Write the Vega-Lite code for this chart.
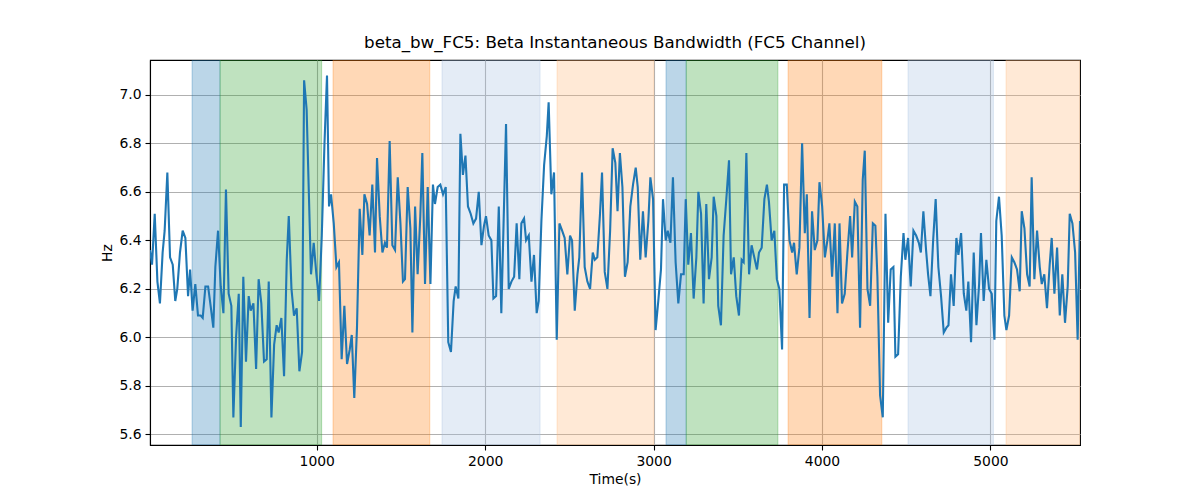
{
  "$schema": "https://vega.github.io/schema/vega-lite/v6.json",
  "width": 930,
  "height": 385,
  "autosize": {"type": "none"},
  "padding": {"left": 150, "top": 60, "right": 120, "bottom": 55},
  "background": "white",
  "title": {
    "text": "beta_bw_FC5: Beta Instantaneous Bandwidth (FC5 Channel)",
    "font": "DejaVu Sans",
    "fontSize": 16.7,
    "fontWeight": "normal",
    "color": "black",
    "anchor": "middle",
    "offset": 8
  },
  "config": {
    "view": {"stroke": "black", "strokeWidth": 1.1},
    "axis": {
      "labelFont": "DejaVu Sans",
      "labelFontSize": 13.9,
      "labelColor": "black",
      "titleFont": "DejaVu Sans",
      "titleFontSize": 13.9,
      "titleFontWeight": "normal",
      "titleColor": "black",
      "domainColor": "black",
      "domainWidth": 1.1,
      "tickColor": "black",
      "tickWidth": 1.1,
      "tickSize": 5,
      "labelPadding": 4,
      "grid": true,
      "gridColor": "#b0b0b0",
      "gridWidth": 1.1
    }
  },
  "datasets": {
    "spans": [
      {"start": 260, "end": 426, "kind": "k1"},
      {"start": 426, "end": 1029, "kind": "k2"},
      {"start": 1097, "end": 1671, "kind": "k3"},
      {"start": 1744, "end": 2326, "kind": "k4"},
      {"start": 2427, "end": 3001, "kind": "k5"},
      {"start": 3074, "end": 3194, "kind": "k1"},
      {"start": 3194, "end": 3738, "kind": "k2"},
      {"start": 3799, "end": 4355, "kind": "k3"},
      {"start": 4511, "end": 5018, "kind": "k4"},
      {"start": 5093, "end": 5532, "kind": "k5"}
    ],
    "series": [
      {"t": 10, "v": 6.36}, {"t": 22, "v": 6.30}, {"t": 38, "v": 6.51}, {"t": 54, "v": 6.23}, {"t": 69, "v": 6.14},
      {"t": 85, "v": 6.35}, {"t": 97, "v": 6.44}, {"t": 113, "v": 6.68}, {"t": 129, "v": 6.33}, {"t": 145, "v": 6.30},
      {"t": 160, "v": 6.15}, {"t": 172, "v": 6.20}, {"t": 188, "v": 6.35}, {"t": 204, "v": 6.44}, {"t": 220, "v": 6.41},
      {"t": 236, "v": 6.17}, {"t": 248, "v": 6.28}, {"t": 263, "v": 6.11}, {"t": 279, "v": 6.22}, {"t": 295, "v": 6.09},
      {"t": 311, "v": 6.09}, {"t": 323, "v": 6.08}, {"t": 339, "v": 6.21}, {"t": 355, "v": 6.21}, {"t": 370, "v": 6.13},
      {"t": 386, "v": 6.04}, {"t": 398, "v": 6.29}, {"t": 414, "v": 6.44}, {"t": 430, "v": 6.21}, {"t": 446, "v": 6.10},
      {"t": 461, "v": 6.61}, {"t": 477, "v": 6.18}, {"t": 493, "v": 6.13}, {"t": 505, "v": 5.67}, {"t": 521, "v": 6.00},
      {"t": 537, "v": 6.18}, {"t": 549, "v": 5.63}, {"t": 564, "v": 6.25}, {"t": 580, "v": 5.90}, {"t": 596, "v": 6.17},
      {"t": 608, "v": 6.11}, {"t": 624, "v": 6.14}, {"t": 640, "v": 5.87}, {"t": 655, "v": 6.24}, {"t": 671, "v": 6.14},
      {"t": 687, "v": 5.90}, {"t": 703, "v": 5.91}, {"t": 715, "v": 6.23}, {"t": 731, "v": 5.67}, {"t": 747, "v": 5.97},
      {"t": 762, "v": 6.05}, {"t": 774, "v": 6.02}, {"t": 790, "v": 6.08}, {"t": 806, "v": 5.84}, {"t": 822, "v": 6.32},
      {"t": 834, "v": 6.50}, {"t": 850, "v": 6.20}, {"t": 865, "v": 6.09}, {"t": 881, "v": 6.12}, {"t": 897, "v": 5.86},
      {"t": 913, "v": 5.94}, {"t": 925, "v": 7.06}, {"t": 940, "v": 6.94}, {"t": 966, "v": 6.26}, {"t": 982, "v": 6.39},
      {"t": 998, "v": 6.26}, {"t": 1014, "v": 6.15}, {"t": 1030, "v": 6.42}, {"t": 1046, "v": 6.80}, {"t": 1061, "v": 7.08},
      {"t": 1073, "v": 6.54}, {"t": 1085, "v": 6.59}, {"t": 1101, "v": 6.47}, {"t": 1117, "v": 6.29}, {"t": 1132, "v": 6.31},
      {"t": 1148, "v": 5.91}, {"t": 1164, "v": 6.13}, {"t": 1180, "v": 5.89}, {"t": 1196, "v": 5.95}, {"t": 1208, "v": 6.01},
      {"t": 1223, "v": 5.75}, {"t": 1239, "v": 6.04}, {"t": 1255, "v": 6.53}, {"t": 1271, "v": 6.34}, {"t": 1283, "v": 6.59},
      {"t": 1299, "v": 6.55}, {"t": 1314, "v": 6.42}, {"t": 1330, "v": 6.63}, {"t": 1346, "v": 6.35}, {"t": 1358, "v": 6.74},
      {"t": 1374, "v": 6.50}, {"t": 1390, "v": 6.35}, {"t": 1405, "v": 6.39}, {"t": 1417, "v": 6.37}, {"t": 1433, "v": 6.81},
      {"t": 1449, "v": 6.38}, {"t": 1465, "v": 6.36}, {"t": 1481, "v": 6.66}, {"t": 1497, "v": 6.47}, {"t": 1512, "v": 6.23},
      {"t": 1524, "v": 6.24}, {"t": 1540, "v": 6.62}, {"t": 1556, "v": 6.45}, {"t": 1568, "v": 6.02}, {"t": 1584, "v": 6.54},
      {"t": 1599, "v": 6.26}, {"t": 1615, "v": 6.50}, {"t": 1627, "v": 6.76}, {"t": 1643, "v": 6.22}, {"t": 1659, "v": 6.62},
      {"t": 1675, "v": 6.22}, {"t": 1690, "v": 6.63}, {"t": 1702, "v": 6.55}, {"t": 1718, "v": 6.62}, {"t": 1734, "v": 6.63},
      {"t": 1750, "v": 6.59}, {"t": 1766, "v": 6.62}, {"t": 1781, "v": 5.98}, {"t": 1797, "v": 5.94}, {"t": 1813, "v": 6.15},
      {"t": 1825, "v": 6.21}, {"t": 1841, "v": 6.16}, {"t": 1853, "v": 6.84}, {"t": 1868, "v": 6.67}, {"t": 1883, "v": 6.75},
      {"t": 1898, "v": 6.54}, {"t": 1914, "v": 6.51}, {"t": 1930, "v": 6.47}, {"t": 1946, "v": 6.49}, {"t": 1962, "v": 6.60},
      {"t": 1978, "v": 6.38}, {"t": 1993, "v": 6.46}, {"t": 2005, "v": 6.50}, {"t": 2021, "v": 6.42}, {"t": 2037, "v": 6.40},
      {"t": 2049, "v": 6.16}, {"t": 2065, "v": 6.17}, {"t": 2081, "v": 6.54}, {"t": 2096, "v": 6.10}, {"t": 2108, "v": 6.43},
      {"t": 2124, "v": 6.88}, {"t": 2140, "v": 6.20}, {"t": 2156, "v": 6.23}, {"t": 2172, "v": 6.25}, {"t": 2187, "v": 6.47},
      {"t": 2203, "v": 6.24}, {"t": 2215, "v": 6.47}, {"t": 2231, "v": 6.49}, {"t": 2243, "v": 6.40}, {"t": 2259, "v": 6.42},
      {"t": 2275, "v": 6.23}, {"t": 2290, "v": 6.34}, {"t": 2306, "v": 6.10}, {"t": 2318, "v": 6.15}, {"t": 2334, "v": 6.48},
      {"t": 2350, "v": 6.71}, {"t": 2366, "v": 6.83}, {"t": 2377, "v": 6.97}, {"t": 2393, "v": 6.59}, {"t": 2409, "v": 6.68},
      {"t": 2425, "v": 5.99}, {"t": 2441, "v": 6.47}, {"t": 2457, "v": 6.44}, {"t": 2472, "v": 6.41}, {"t": 2488, "v": 6.26},
      {"t": 2504, "v": 6.42}, {"t": 2516, "v": 6.40}, {"t": 2532, "v": 6.11}, {"t": 2548, "v": 6.26}, {"t": 2559, "v": 6.33},
      {"t": 2575, "v": 6.68}, {"t": 2591, "v": 6.29}, {"t": 2607, "v": 6.23}, {"t": 2623, "v": 6.20}, {"t": 2639, "v": 6.35},
      {"t": 2651, "v": 6.32}, {"t": 2666, "v": 6.33}, {"t": 2682, "v": 6.51}, {"t": 2694, "v": 6.68}, {"t": 2710, "v": 6.27},
      {"t": 2726, "v": 6.20}, {"t": 2742, "v": 6.44}, {"t": 2757, "v": 6.78}, {"t": 2773, "v": 6.72}, {"t": 2786, "v": 6.52},
      {"t": 2800, "v": 6.76}, {"t": 2815, "v": 6.62}, {"t": 2830, "v": 6.25}, {"t": 2846, "v": 6.31}, {"t": 2862, "v": 6.54},
      {"t": 2878, "v": 6.63}, {"t": 2894, "v": 6.70}, {"t": 2906, "v": 6.62}, {"t": 2921, "v": 6.32}, {"t": 2937, "v": 6.52},
      {"t": 2953, "v": 6.33}, {"t": 2969, "v": 6.48}, {"t": 2981, "v": 6.66}, {"t": 2997, "v": 6.57}, {"t": 3012, "v": 6.03},
      {"t": 3028, "v": 6.15}, {"t": 3044, "v": 6.28}, {"t": 3056, "v": 6.57}, {"t": 3072, "v": 6.40}, {"t": 3084, "v": 6.44},
      {"t": 3100, "v": 6.39}, {"t": 3115, "v": 6.66}, {"t": 3131, "v": 6.31}, {"t": 3147, "v": 6.14}, {"t": 3163, "v": 6.26},
      {"t": 3179, "v": 6.26}, {"t": 3191, "v": 6.57}, {"t": 3206, "v": 6.30}, {"t": 3222, "v": 6.43}, {"t": 3238, "v": 6.16},
      {"t": 3254, "v": 6.33}, {"t": 3266, "v": 6.60}, {"t": 3282, "v": 6.51}, {"t": 3297, "v": 6.14}, {"t": 3313, "v": 6.55},
      {"t": 3329, "v": 6.24}, {"t": 3345, "v": 6.33}, {"t": 3357, "v": 6.58}, {"t": 3373, "v": 6.50}, {"t": 3384, "v": 6.13},
      {"t": 3400, "v": 6.05}, {"t": 3416, "v": 6.42}, {"t": 3432, "v": 6.57}, {"t": 3448, "v": 6.73}, {"t": 3460, "v": 6.26},
      {"t": 3476, "v": 6.33}, {"t": 3491, "v": 6.17}, {"t": 3507, "v": 6.09}, {"t": 3523, "v": 6.32}, {"t": 3535, "v": 6.31},
      {"t": 3551, "v": 6.76}, {"t": 3567, "v": 6.26}, {"t": 3582, "v": 6.38}, {"t": 3598, "v": 6.33}, {"t": 3614, "v": 6.28},
      {"t": 3626, "v": 6.35}, {"t": 3642, "v": 6.37}, {"t": 3658, "v": 6.57}, {"t": 3673, "v": 6.63}, {"t": 3685, "v": 6.56},
      {"t": 3701, "v": 6.40}, {"t": 3717, "v": 6.44}, {"t": 3732, "v": 6.24}, {"t": 3747, "v": 6.20}, {"t": 3763, "v": 5.95},
      {"t": 3775, "v": 6.63}, {"t": 3791, "v": 6.63}, {"t": 3807, "v": 6.40}, {"t": 3823, "v": 6.35}, {"t": 3834, "v": 6.39},
      {"t": 3850, "v": 6.26}, {"t": 3866, "v": 6.37}, {"t": 3882, "v": 6.80}, {"t": 3898, "v": 6.43}, {"t": 3910, "v": 6.59},
      {"t": 3926, "v": 6.08}, {"t": 3941, "v": 6.52}, {"t": 3957, "v": 6.36}, {"t": 3973, "v": 6.40}, {"t": 3985, "v": 6.64},
      {"t": 4001, "v": 6.54}, {"t": 4017, "v": 6.33}, {"t": 4032, "v": 6.40}, {"t": 4044, "v": 6.47}, {"t": 4060, "v": 6.25},
      {"t": 4076, "v": 6.47}, {"t": 4092, "v": 6.10}, {"t": 4104, "v": 6.47}, {"t": 4119, "v": 6.14}, {"t": 4135, "v": 6.18},
      {"t": 4151, "v": 6.35}, {"t": 4167, "v": 6.50}, {"t": 4179, "v": 6.33}, {"t": 4195, "v": 6.56}, {"t": 4210, "v": 6.54},
      {"t": 4226, "v": 6.04}, {"t": 4242, "v": 6.65}, {"t": 4254, "v": 6.77}, {"t": 4270, "v": 6.20}, {"t": 4286, "v": 6.13},
      {"t": 4302, "v": 6.47}, {"t": 4317, "v": 6.46}, {"t": 4329, "v": 6.25}, {"t": 4345, "v": 5.76}, {"t": 4361, "v": 5.67},
      {"t": 4377, "v": 6.51}, {"t": 4393, "v": 6.06}, {"t": 4408, "v": 6.28}, {"t": 4424, "v": 6.29}, {"t": 4436, "v": 5.92},
      {"t": 4452, "v": 5.93}, {"t": 4468, "v": 6.25}, {"t": 4484, "v": 6.43}, {"t": 4495, "v": 6.32}, {"t": 4511, "v": 6.41},
      {"t": 4527, "v": 6.21}, {"t": 4543, "v": 6.44}, {"t": 4559, "v": 6.42}, {"t": 4575, "v": 6.39}, {"t": 4587, "v": 6.35},
      {"t": 4602, "v": 6.52}, {"t": 4618, "v": 6.36}, {"t": 4630, "v": 6.26}, {"t": 4644, "v": 6.17}, {"t": 4660, "v": 6.40},
      {"t": 4675, "v": 6.57}, {"t": 4691, "v": 6.29}, {"t": 4707, "v": 6.17}, {"t": 4723, "v": 6.02}, {"t": 4739, "v": 6.04},
      {"t": 4751, "v": 6.05}, {"t": 4766, "v": 6.26}, {"t": 4782, "v": 6.13}, {"t": 4798, "v": 6.41}, {"t": 4810, "v": 6.34},
      {"t": 4826, "v": 6.43}, {"t": 4842, "v": 6.18}, {"t": 4857, "v": 6.11}, {"t": 4869, "v": 6.23}, {"t": 4885, "v": 5.98},
      {"t": 4901, "v": 6.35}, {"t": 4917, "v": 6.05}, {"t": 4933, "v": 6.22}, {"t": 4944, "v": 6.43}, {"t": 4960, "v": 6.15},
      {"t": 4976, "v": 6.32}, {"t": 4992, "v": 6.20}, {"t": 5008, "v": 6.18}, {"t": 5024, "v": 5.99}, {"t": 5035, "v": 6.48},
      {"t": 5051, "v": 6.58}, {"t": 5067, "v": 6.42}, {"t": 5083, "v": 6.09}, {"t": 5095, "v": 6.03}, {"t": 5111, "v": 6.09},
      {"t": 5127, "v": 6.33}, {"t": 5142, "v": 6.31}, {"t": 5158, "v": 6.28}, {"t": 5174, "v": 6.19}, {"t": 5186, "v": 6.52},
      {"t": 5202, "v": 6.45}, {"t": 5218, "v": 6.26}, {"t": 5233, "v": 6.21}, {"t": 5245, "v": 6.66}, {"t": 5261, "v": 6.24},
      {"t": 5277, "v": 6.44}, {"t": 5293, "v": 6.29}, {"t": 5305, "v": 6.22}, {"t": 5320, "v": 6.26}, {"t": 5336, "v": 6.12},
      {"t": 5352, "v": 6.30}, {"t": 5364, "v": 6.41}, {"t": 5380, "v": 6.18}, {"t": 5396, "v": 6.37}, {"t": 5412, "v": 6.09},
      {"t": 5427, "v": 6.26}, {"t": 5443, "v": 6.06}, {"t": 5459, "v": 6.21}, {"t": 5471, "v": 6.51}, {"t": 5487, "v": 6.47},
      {"t": 5503, "v": 6.35}, {"t": 5518, "v": 5.99}, {"t": 5532, "v": 6.48}
    ]
  },
  "layer": [
    {
      "data": {"name": "spans"},
      "mark": {"type": "rect", "strokeWidth": 1.1, "fillOpacity": 0.3, "strokeOpacity": 0.3, "clip": true},
      "encoding": {
        "x": {
          "field": "start",
          "type": "quantitative",
          "scale": {"domain": [10, 5532], "nice": false, "zero": false},
          "axis": {
            "title": "Time(s)",
            "values": [1000, 2000, 3000, 4000, 5000],
            "format": "d",
            "titlePadding": 5
          }
        },
        "x2": {"field": "end"},
        "y": {"value": 0},
        "y2": {"value": 385},
        "fill": {
          "field": "kind",
          "type": "nominal",
          "scale": {"domain": ["k1", "k2", "k3", "k4", "k5"], "range": ["#1f77b4", "#2ca02c", "#ff7f0e", "#a5c0e1", "#ffb676"]},
          "legend": null
        },
        "stroke": {
          "field": "kind",
          "type": "nominal",
          "scale": {"domain": ["k1", "k2", "k3", "k4", "k5"], "range": ["#1f77b4", "#2ca02c", "#ff7f0e", "#a5c0e1", "#ffb676"]},
          "legend": null
        }
      }
    },
    {
      "data": {"name": "series"},
      "mark": {"type": "line", "color": "#1f77b4", "strokeWidth": 2.1, "clip": true},
      "encoding": {
        "x": {"field": "t", "type": "quantitative"},
        "y": {
          "field": "v",
          "type": "quantitative",
          "scale": {"domain": [5.556, 7.144], "nice": false, "zero": false},
          "axis": {
            "title": "Hz",
            "values": [5.6, 5.8, 6.0, 6.2, 6.4, 6.6, 6.8, 7.0],
            "format": ".1f",
            "titlePadding": 4
          }
        }
      }
    }
  ]
}
